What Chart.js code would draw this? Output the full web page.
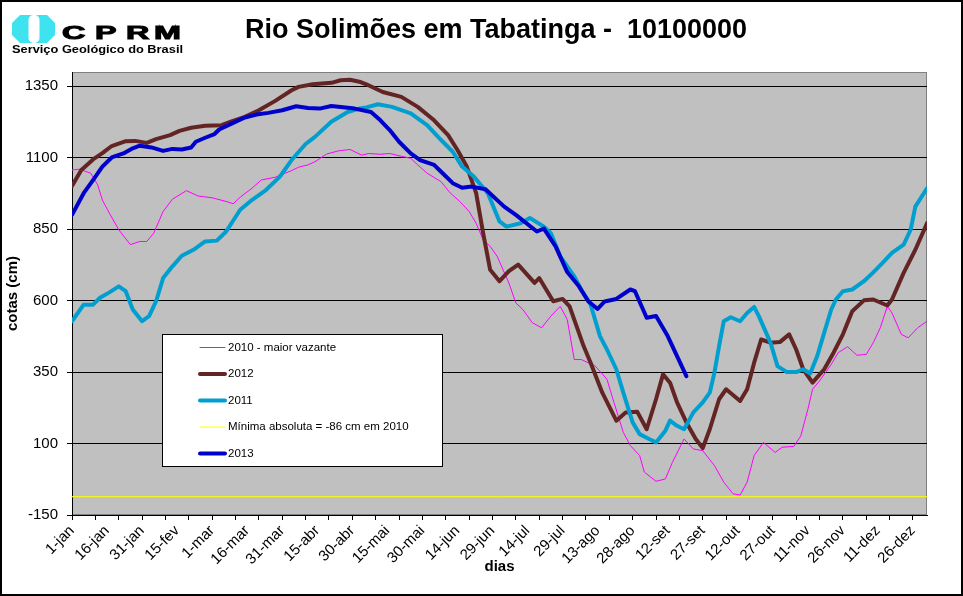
<!DOCTYPE html>
<html>
<head>
<meta charset="utf-8">
<script src="https://cdn.jsdelivr.net/npm/chart.js@4.4.1/dist/chart.umd.min.js"></script>
<style>
  html, body { margin: 0; padding: 0; background: #fff; }
  #wrap { width: 963px; height: 596px; }
</style>
</head>
<body>
<div id="wrap"><canvas id="cotasChart" width="963" height="596"></canvas></div>
<script>
// --- data (day index 0 = 1-jan) ---
const titulo = 'Rio Solimões em Tabatinga -  10100000';
const xLabels = ['1-jan', '16-jan', '31-jan', '15-fev', '1-mar', '16-mar', '31-mar', '15-abr', '30-abr',
    '15-mai', '30-mai', '14-jun', '29-jun', '14-jul', '29-jul', '13-ago', '28-ago', '12-set', '27-set',
    '12-out', '27-out', '11-nov', '26-nov', '11-dez', '26-dez'];
const yTicks = [-150, 100, 350, 600, 850, 1100, 1350];

const dias2010 = [0, 3, 8, 11, 13, 16, 20, 25, 29, 32, 35, 39, 43, 49, 54, 60, 66, 69, 72, 77, 81, 87, 94, 97,
    101, 104, 109, 114, 119, 124, 127, 132, 136, 140, 145, 148, 152, 158, 162, 166, 170, 173, 176, 179, 182,
    187, 190, 193, 197, 201, 205, 209, 212, 215, 218, 224, 229, 232, 236, 239, 243, 245, 250, 254, 257, 262,
    266, 270, 275, 279, 283, 286, 289, 292, 296, 301, 304, 309, 312, 315, 317, 320, 325, 328, 332, 336, 340,
    343, 346, 349, 351, 355, 358, 362, 366];
const cotas2010 = [1057, 1060, 1046, 1005, 952, 906, 848, 796, 807, 807, 836, 912, 955, 985, 966, 960, 947, 939,
    962, 993, 1022, 1032, 1055, 1067, 1075, 1086, 1113, 1124, 1129, 1109, 1115, 1112, 1115, 1107, 1098, 1075,
    1046, 1016, 976, 947, 912, 871, 813, 790, 755, 662, 592, 569, 523, 505, 546, 580, 534, 394, 394, 371, 325,
    244, 139, 93, 58, 0, -32, -24, 34, 116, 81, 75, 23, -35, -76, -80, -35, 58, 104, 69, 87, 90, 127, 220,
    290, 319, 377, 418, 439, 409, 412, 453, 505, 580, 557, 482, 470, 505, 528];

const dias2012 = [0, 4, 9, 13, 17, 23, 27, 32, 36, 42, 46, 51, 57, 64, 68, 74, 80, 87, 94, 97, 103, 111, 115,
    119, 123, 126, 133, 141, 148, 155, 161, 165, 169, 173, 176, 179, 183, 187, 191, 198, 200, 206, 210, 213,
    219, 222, 227, 233, 237, 242, 246, 250, 253, 256, 259, 263, 267, 270, 273, 277, 280, 286, 289, 292, 295,
    299, 303, 307, 310, 313, 317, 322, 326, 330, 334, 339, 343, 349, 351, 356, 361, 366];
const cotas2012 = [1001, 1057, 1094, 1116, 1141, 1158, 1159, 1152, 1165, 1179, 1194, 1205, 1212, 1214, 1226,
    1243, 1266, 1299, 1336, 1348, 1357, 1362, 1371, 1373, 1366, 1357, 1330, 1313, 1278, 1231, 1179, 1127, 1069,
    976, 836, 708, 668, 703, 726, 662, 679, 598, 606, 580, 441, 383, 278, 180, 209, 211, 150, 255, 342, 313,
    244, 174, 116, 84, 150, 255, 290, 249, 290, 383, 464, 453, 455, 482, 429, 360, 313, 360, 418, 482, 563,
    601, 604, 583, 604, 697, 778, 871];

const dias2011 = [0, 5, 9, 12, 16, 20, 23, 26, 30, 33, 36, 39, 43, 47, 52, 57, 62, 66, 72, 77, 83, 89, 91, 94,
    100, 104, 111, 118, 123, 126, 131, 137, 145, 152, 158, 163, 167, 172, 178, 183, 186, 192, 196, 202, 205,
    209, 215, 218, 222, 226, 229, 233, 236, 240, 243, 247, 250, 254, 256, 259, 262, 266, 270, 273, 275, 277,
    279, 282, 286, 289, 292, 294, 299, 302, 306, 310, 313, 316, 319, 322, 325, 327, 330, 334, 339, 343, 347,
    351, 356, 359, 361, 366];
const cotas2011 = [528, 586, 586, 610, 629, 650, 633, 569, 528, 546, 598, 679, 720, 757, 778, 807, 810, 842,
    918, 952, 987, 1034, 1057, 1092, 1148, 1173, 1226, 1260, 1272, 1276, 1287, 1278, 1255, 1214, 1162, 1121,
    1069, 1034, 976, 877, 859, 871, 889, 859, 836, 755, 685, 639, 586, 476, 429, 360, 278, 174, 133, 116, 104,
    145, 180, 162, 150, 209, 244, 278, 348, 441, 528, 542, 528, 557, 578, 546, 453, 371, 350, 350, 360, 345,
    406, 488, 569, 604, 633, 639, 668, 699, 732, 767, 796, 848, 929, 993];

const dias2013 = [0, 5, 9, 13, 17, 22, 26, 29, 34, 39, 43, 47, 51, 53, 57, 61, 63, 69, 74, 79, 84, 90, 96, 101,
    106, 111, 117, 121, 128, 132, 136, 140, 145, 149, 155, 158, 163, 167, 171, 177, 185, 190, 199, 202, 207,
    212, 217, 221, 225, 228, 233, 239, 241, 246, 250, 255, 259, 263];
const cotas2013 = [900, 976, 1022, 1069, 1101, 1115, 1133, 1142, 1136, 1124, 1131, 1129, 1136, 1156, 1170, 1183,
    1199, 1222, 1241, 1251, 1257, 1266, 1280, 1274, 1272, 1281, 1276, 1272, 1260, 1231, 1197, 1156, 1115, 1092,
    1075, 1051, 1011, 995, 999, 990, 929, 900, 842, 852, 790, 700, 650, 598, 571, 597, 606, 639, 633, 540, 546,
    476, 406, 336];

const minimaAbsoluta = -86;
const diasMinima = [0, 366];

function pontos(dias, cotas) {
    return dias.map((d, i) => ({ x: d, y: cotas[i] }));
}

// white page, grey plot area, frame
const fundo = {
    id: 'fundo',
    beforeDraw(chart) {
        const { ctx, chartArea: a } = chart;
        ctx.save();
        ctx.fillStyle = '#fff';
        ctx.fillRect(0, 0, chart.width, chart.height);
        ctx.fillStyle = '#c0c0c0';
        ctx.fillRect(a.left, a.top, a.right - a.left, a.bottom - a.top);
        ctx.strokeStyle = '#808080';
        ctx.lineWidth = 1;
        ctx.strokeRect(a.left + 0.5, a.top + 0.5, a.right - a.left - 1, a.bottom - a.top - 1);
        ctx.restore();
    },
    afterDraw(chart) {
        const ctx = chart.ctx;
        ctx.save();
        ctx.strokeStyle = '#000';
        ctx.lineWidth = 2;
        ctx.strokeRect(1, 1, chart.width - 2, chart.height - 2);
        ctx.restore();
    }
};

// title + CPRM logo
const cabecalho = {
    id: 'cabecalho',
    afterDraw(chart) {
        const ctx = chart.ctx;
        ctx.save();
        ctx.fillStyle = '#000';
        ctx.font = 'bold 27px "Liberation Sans", Arial, sans-serif';
        ctx.textAlign = 'center';
        ctx.textBaseline = 'alphabetic';
        ctx.fillText(titulo, 496, 38);

        // logo shape
        ctx.fillStyle = '#3fe3f0';
        ctx.beginPath();
        ctx.moveTo(20, 15); ctx.lineTo(47, 15); ctx.lineTo(55, 23); ctx.lineTo(55, 35);
        ctx.lineTo(47, 43); ctx.lineTo(20, 43); ctx.lineTo(12, 35); ctx.lineTo(12, 23);
        ctx.closePath();
        ctx.fill();
        ctx.fillStyle = '#fff';
        ctx.beginPath();
        ctx.roundRect(28.5, 15, 11, 28, 5);
        ctx.fill();

        ctx.fillStyle = '#000';
        ctx.strokeStyle = '#000';
        ctx.lineWidth = 1;
        ctx.textAlign = 'left';
        ctx.font = 'bold 19px "Liberation Sans", Arial, sans-serif';
        const letras = [['C', 62], ['P', 95], ['R', 126], ['M', 154]];
        letras.forEach(([l, x]) => {
            ctx.save();
            ctx.translate(x, 39);
            ctx.scale(1.7, 1);
            ctx.fillText(l, 0, 0);
            ctx.strokeText(l, 0, 0);
            ctx.restore();
        });
        ctx.font = 'bold 10px "Liberation Sans", Arial, sans-serif';
        const sub = 'Serviço Geológico do Brasil';
        const w = ctx.measureText(sub).width;
        ctx.save();
        ctx.translate(12, 53);
        ctx.scale(171 / w, 1);
        ctx.fillText(sub, 0, 0);
        ctx.restore();
        ctx.restore();
    }
};

// legend box inside the plot
const legenda = {
    id: 'legenda',
    afterDraw(chart) {
        const ctx = chart.ctx;
        ctx.save();
        ctx.fillStyle = '#fff';
        ctx.fillRect(162, 334, 280, 132);
        ctx.strokeStyle = '#000';
        ctx.lineWidth = 1;
        ctx.strokeRect(162.5, 334.5, 280, 132);
        ctx.font = '11.5px "Liberation Sans", Arial, sans-serif';
        ctx.textBaseline = 'middle';
        chart.data.datasets.forEach((ds, i) => {
            const y = 347.5 + i * 26.5;
            ctx.strokeStyle = ds.borderColor;
            ctx.lineWidth = ds.borderWidth;
            ctx.lineCap = 'round';
            ctx.beginPath();
            ctx.moveTo(200, y);
            ctx.lineTo(225, y);
            ctx.stroke();
            ctx.fillStyle = '#000';
            ctx.fillText(ds.label, 228, y);
        });
        ctx.restore();
    }
};

const serie = (label, data, color, width, order) => ({
    label, data, borderColor: color, borderWidth: width, order,
    pointRadius: 0, tension: 0, fill: false,
    borderJoinStyle: 'round', borderCapStyle: 'round'
});

const fonte = '"Liberation Sans", Arial, sans-serif';

new Chart(document.getElementById('cotasChart'), {
    type: 'line',
    data: {
        datasets: [
            serie('2010 - maior vazante', pontos(dias2010, cotas2010), '#ff00ff', 1, 4),
            serie('2012', pontos(dias2012, cotas2012), '#632523', 4, 3),
            serie('2011', pontos(dias2011, cotas2011), '#009fcf', 4, 2),
            serie('Mínima absoluta = -86 cm em 2010', pontos(diasMinima, diasMinima.map(() => minimaAbsoluta)), '#ffff00', 1, 1),
            serie('2013', pontos(dias2013, cotas2013), '#0000cc', 4, 0)
        ]
    },
    options: {
        responsive: false,
        animation: false,
        devicePixelRatio: 1,
        layout: { padding: { top: 72, right: 36, left: 0, bottom: 0 } },
        plugins: { legend: { display: false }, title: { display: false }, tooltip: { enabled: false } },
        scales: {
            x: {
                type: 'linear',
                min: 0,
                max: 366,
                afterBuildTicks(scale) {
                    const t = [];
                    for (let d = 0; d <= 360; d += 5) {
                        if (d % 10 === 0 || d % 15 === 0) t.push({ value: d });
                    }
                    scale.ticks = t;
                },
                afterFit(scale) { scale.height = 81; },
                ticks: {
                    autoSkip: false,
                    maxRotation: 45,
                    minRotation: 45,
                    padding: 2,
                    color: '#000',
                    font: { family: fonte, size: 15 },
                    callback: v => (v % 15 === 0 ? xLabels[v / 15] : '')
                },
                grid: {
                    drawOnChartArea: false,
                    tickLength: 5,
                    tickColor: c => (c.tick && c.tick.value % 10 === 0 ? '#000' : 'rgba(0,0,0,0)')
                },
                border: { color: '#000', width: 1 },
                title: {
                    display: true, text: 'dias', color: '#000',
                    font: { family: fonte, size: 15, weight: 'bold' },
                    padding: { top: 0, bottom: 20 }
                }
            },
            y: {
                min: -150,
                max: 1400,
                afterBuildTicks(scale) { scale.ticks = yTicks.map(v => ({ value: v })); },
                afterFit(scale) { scale.width = 72; },
                ticks: {
                    color: '#000', padding: 9, font: { family: fonte, size: 15 },
                    callback: v => String(v)
                },
                grid: { color: '#000', lineWidth: 1, tickLength: 5 },
                border: { color: '#000', width: 1 },
                title: {
                    display: true, text: 'cotas (cm)', color: '#000',
                    font: { family: fonte, size: 15, weight: 'bold' },
                    padding: { top: 4, bottom: 4 }
                }
            }
        }
    },
    plugins: [fundo, cabecalho, legenda]
});
</script>
</body>
</html>
